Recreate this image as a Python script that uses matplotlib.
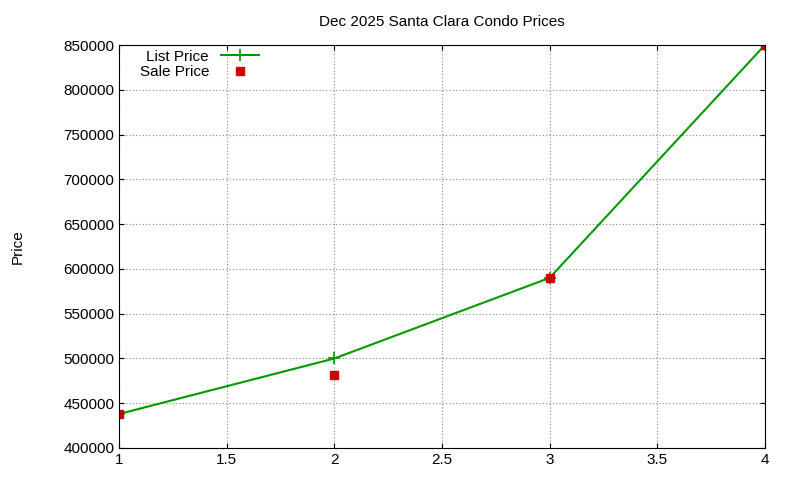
import matplotlib
matplotlib.use("Agg")
import matplotlib.pyplot as plt
plt.rcParams['font.family'] = ['Liberation Sans', 'DejaVu Sans']

x = [1, 2, 3, 4]
list_price = [438000, 500000, 590000, 850000]
sale_price = [438000, 481000, 590000, 850000]

fig = plt.figure(figsize=(8, 4.8), dpi=100)
ax = fig.add_axes([0.149, 0.0667, 0.807, 0.8393])
ax.plot(x, list_price, color="#009900", lw=1.5, marker="+", ms=8, mew=1.2, label="List Price")
ax.plot(x, sale_price, ls="none", marker="s", color="#cc0000", ms=6, label="Sale Price")
ax.set_xlim(1, 4)
ax.set_ylim(400000, 850000)
ax.set_xticks([1, 1.5, 2, 2.5, 3, 3.5, 4])
ax.set_xticklabels(["1", "1.5", "2", "2.5", "3", "3.5", "4"])
ax.set_yticks(range(400000, 850001, 50000))
ax.grid(True, ls=(0, (1, 2)), color="#888888", lw=0.8)
ax.tick_params(direction="in", top=True, right=True, labelsize=11)
ax.set_title("Dec 2025 Santa Clara Condo Prices", fontsize=11, pad=14)
ax.set_ylabel("Price", fontsize=11, labelpad=28)
ax.legend(loc="upper left", frameon=False, markerfirst=False, fontsize=11,
          bbox_to_anchor=(0.015, 1.015), handlelength=2.5, borderaxespad=0.3,
          labelspacing=0.1)
fig.savefig("out.png")
